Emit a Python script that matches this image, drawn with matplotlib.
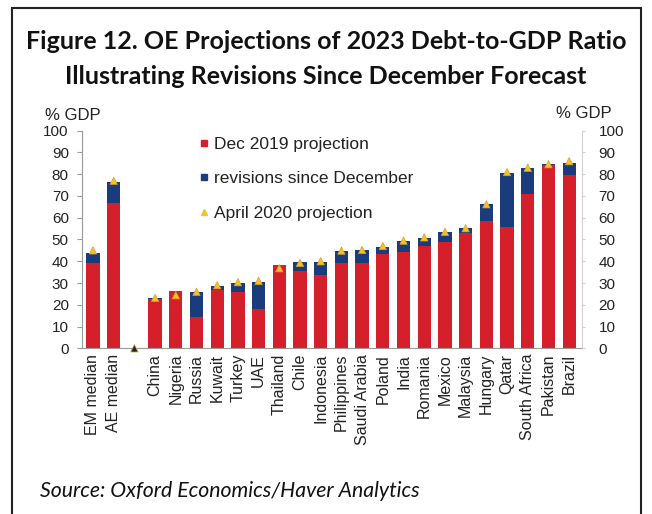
import matplotlib.pyplot as plt
from matplotlib.patches import Rectangle
from matplotlib.lines import Line2D

countries = ["EM median", "AE median", "", "China", "Nigeria", "Russia", "Kuwait",
             "Turkey", "UAE", "Thailand", "Chile", "Indonesia", "Philippines",
             "Saudi Arabia", "Poland", "India", "Romania", "Mexico", "Malaysia",
             "Hungary", "Qatar", "South Africa", "Pakistan", "Brazil"]
dec_2019 = [39.4, 66.6, 0, 22.7, 26.3, 14.5, 27.0, 25.7, 17.9, 38.3, 35.5, 33.7, 39.4,
            39.0, 43.2, 44.4, 47.2, 49.0, 52.8, 58.7, 55.6, 70.9, 84.2, 79.6]
revisions = [4.6, 10.0, 0, 0.3, 0, 11.2, 1.8, 4.5, 12.7, 0, 4.0, 6.1, 5.3,
             6.2, 3.5, 4.9, 3.6, 4.3, 2.3, 7.5, 24.8, 11.8, 0.3, 5.7]
april_2020 = [45.0, 77.0, 0, 23.2, 24.4, 26.0, 29.0, 30.4, 31.0, 36.8, 39.3, 40.0, 44.9,
              45.2, 47.0, 49.5, 51.0, 53.5, 55.2, 66.2, 81.0, 83.0, 84.6, 86.0]

RED = "#d5202b"
BLUE = "#1b3c7c"
GOLD = "#f2c12e"

plt.rcParams["font.family"] = ["Liberation Sans", "DejaVu Sans"]

fig = plt.figure(figsize=(6.52, 5.14), dpi=100)
ax = fig.add_axes([0.1258, 0.3224, 0.7668, 0.4233])

x = list(range(len(countries)))
ax.bar(x, dec_2019, width=0.64, color=RED, label="Dec 2019 projection", zorder=2)
ax.bar(x, revisions, width=0.64, bottom=dec_2019, color=BLUE,
       label="revisions since December", zorder=2)
mk_colors = [GOLD if c else "#222222" for c in countries]
ax.scatter(x, april_2020, marker="^", s=28, c=mk_colors, edgecolors="#e0a020",
           linewidths=0.5, zorder=3, clip_on=False)

ax.set_xlim(-0.53, 23.62)
ax.set_ylim(0, 100)
ax.set_yticks(range(0, 101, 10))
ax.set_xticks(x)
ax.set_xticklabels(countries, rotation=90, fontsize=11.5, color="#222222")
ax.tick_params(axis="x", length=0, pad=4)
ax.tick_params(axis="y", labelsize=11, color="#999999", length=3.5, pad=6,
               labelcolor="#222222")

ax2 = ax.twinx()
ax2.set_ylim(0, 100)
ax2.set_yticks(range(0, 101, 10))
ax2.tick_params(axis="y", labelsize=11, color="#d0d0d0", length=2, pad=10,
                labelcolor="#222222")

for a in (ax, ax2):
    a.spines["top"].set_visible(False)
    a.spines["left"].set_color("#999999")
    a.spines["right"].set_color("#d0d0d0")
    a.spines["bottom"].set_color("#999999")
ax.spines["right"].set_visible(False)
ax2.spines["left"].set_visible(False)
ax2.spines["bottom"].set_visible(False)

ax.text(-0.019, 1.072, "% GDP", transform=ax.transAxes, ha="center", va="center",
        fontsize=12, color="#222222")
ax2.text(1.003, 1.08, "% GDP", transform=ax.transAxes, ha="center", va="center",
         fontsize=12, color="#222222")

handles = [
    Line2D([], [], ls="none", marker="s", ms=5, color=RED),
    Line2D([], [], ls="none", marker="s", ms=5, color=BLUE),
    Line2D([], [], ls="none", marker="^", ms=4, color=GOLD),
]
labels = ["Dec 2019 projection", "revisions since December", "April 2020 projection"]
ax2.legend(handles, labels, loc="upper left", bbox_to_anchor=(0.205, 1.045),
           frameon=False, fontsize=12.5, labelspacing=1.12, handlelength=0.5,
           handletextpad=0.3, labelcolor="#222222")

fig.text(0.5, 0.92, "Figure 12. OE Projections of 2023 Debt-to-GDP Ratio",
         ha="center", va="center", fontsize=18, fontweight="bold",
         family="Lato", color="#111111")
fig.text(0.5, 0.852, "Illustrating Revisions Since December Forecast",
         ha="center", va="center", fontsize=18, fontweight="bold",
         family="Lato", color="#111111")
fig.text(0.061, 0.045, "Source: Oxford Economics/Haver Analytics",
         ha="left", va="center", fontsize=15.3, style="italic",
         family="Lato", color="#111111")

fig.patches.append(Rectangle((12 / 652, -0.01), 629 / 652, 1 - 8 / 514 + 0.01,
                             transform=fig.transFigure, fill=False,
                             edgecolor="#222222", linewidth=1.5))

fig.savefig("out.png", dpi=100)
